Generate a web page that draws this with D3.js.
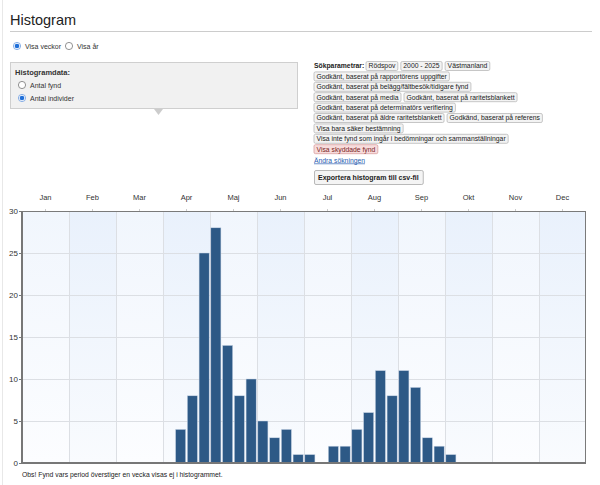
<!DOCTYPE html>
<html>
<head>
<meta charset="utf-8">
<script src="https://cdn.jsdelivr.net/npm/d3@7"></script>
<style>
html,body{margin:0;padding:0;background:#fff;}
svg{display:block;font-family:"Liberation Sans",Arial,sans-serif;}
</style>
</head>
<body>
<svg id="c" width="600" height="485"></svg>
<script>
// ---- data ----
const months = ["Jan","Feb","Mar","Apr","Maj","Jun","Jul","Aug","Sep","Okt","Nov","Dec"];
const weeks = d3.range(1, 49); // 4 bins per month
const counts = [0,0,0,0, 0,0,0,0, 0,0,0,0, 0,4,8,25, 28,14,8,10, 5,3,4,1, 1,0,2,2, 4,6,11,8, 11,9,3,2, 1,0,0,0, 0,0,0,0, 0,0,0,0];
const yTicks = [0,5,10,15,20,25,30];
const tagRows = [
  ["Rödspov","2000 - 2025","Västmanland"],
  ["Godkänt, baserat på rapportörens uppgifter"],
  ["Godkänt, baserat på belägg/fältbesök/tidigare fynd"],
  ["Godkänt, baserat på media","Godkänt, baserat på raritetsblankett"],
  ["Godkänt, baserat på determinatörs verifiering"],
  ["Godkänt, baserat på äldre raritetsblankett","Godkänd, baserat på referens"],
  ["Visa bara säker bestämning"],
  ["Visa inte fynd som ingår i bedömningar och sammanställningar"],
  ["Visa skyddade fynd"]
];

const svg = d3.select("#c");
const defs = svg.append("defs");

// page border line
svg.append("line").attr("x1",2.5).attr("x2",2.5).attr("y1",0).attr("y2",485).attr("stroke","#e8e8e8");

// title
svg.append("text").attr("x",10).attr("y",25).attr("font-size",14.5).attr("fill","#222").text("Histogram");
svg.append("line").attr("x1",10).attr("x2",592).attr("y1",31.5).attr("y2",31.5).attr("stroke","#ccc");

function radio(g, x, y, checked){
  g.append("circle").attr("cx",x).attr("cy",y).attr("r",3.6).attr("fill","#fff")
    .attr("stroke", checked ? "#6a9be0" : "#777").attr("stroke-width",0.8);
  if(checked) g.append("circle").attr("cx",x).attr("cy",y).attr("r",2.3).attr("fill","#1f6fd8");
}
radio(svg,17,46,true);
svg.append("text").attr("x",25).attr("y",48.5).attr("font-size",7).attr("fill","#333").text("Visa veckor");
radio(svg,69,46,false);
svg.append("text").attr("x",77).attr("y",48.5).attr("font-size",7).attr("fill","#333").text("Visa år");

// histogramdata box
svg.append("rect").attr("x",10.5).attr("y",62.5).attr("width",287).attr("height",46).attr("fill","#f1f1f1").attr("stroke","#cfcfcf");
svg.append("path").attr("d","M154,109 L163,109 L158.5,115 Z").attr("fill","#cccccc");
svg.append("text").attr("x",15).attr("y",75).attr("font-size",7.5).attr("font-weight","bold").attr("fill","#333").text("Histogramdata:");
radio(svg,22,85,false);
svg.append("text").attr("x",30).attr("y",87.5).attr("font-size",7).attr("fill","#333").text("Antal fynd");
radio(svg,22,98,true);
svg.append("text").attr("x",30).attr("y",100.5).attr("font-size",7).attr("fill","#333").text("Antal individer");

// tags
const tagFS = 6.8, rowH = 10.4, tagX0 = 314, rowY0 = 66;
svg.append("text").attr("x",tagX0).attr("y",rowY0+2.4).attr("font-size",tagFS).attr("font-weight","bold").attr("fill","#222").text("Sökparametrar:");
tagRows.forEach((row, ri) => {
  let x = ri === 0 ? 366 : tagX0;
  const cy = rowY0 + ri*rowH;
  row.forEach(label => {
    const g = svg.append("g");
    const red = label === "Visa skyddade fynd";
    const r = g.append("rect").attr("y",cy-4.5).attr("height",9).attr("rx",1.5)
      .attr("fill", red ? "#f7dcdc" : "#f3f3f3").attr("stroke", red ? "#d9a0a0" : "#b9b9b9").attr("stroke-width",0.8);
    const t = g.append("text").attr("x",x+2.5).attr("y",cy+2.4).attr("font-size",tagFS).attr("fill", red ? "#7a1f1f" : "#222").text(label);
    const w = t.node().getComputedTextLength() + 5;
    r.attr("x",x).attr("width",w);
    x += w + 3;
  });
});
svg.append("text").attr("x",tagX0).attr("y",162.5).attr("font-size",tagFS).attr("fill","#2a5db0")
  .attr("text-decoration","underline").text("Ändra sökningen");
{
  const g = svg.append("g");
  const r = g.append("rect").attr("x",tagX0+0.5).attr("y",170.5).attr("height",14).attr("rx",1.5)
    .attr("fill","#f4f4f4").attr("stroke","#a8a8a8").attr("stroke-width",0.8);
  const t = g.append("text").attr("x",tagX0+4).attr("y",180).attr("font-size",7).attr("font-weight","bold").attr("fill","#222").text("Exportera histogram till csv-fil");
  r.attr("width", t.node().getComputedTextLength() + 8);
}

// ---- chart ----
const L = 22, R = 586, T = 211, B = 463;
const x = d3.scaleBand().domain(weeks).range([L,R]).paddingInner(0.14).paddingOuter(0.07);
const xm = d3.scaleBand().domain(months).range([L,R]);
const y = d3.scaleLinear().domain([0,30]).range([B,T]);

const gEven = defs.append("linearGradient").attr("id","gEven").attr("x1",0).attr("x2",0).attr("y1",0).attr("y2",1);
gEven.append("stop").attr("offset","0%").attr("stop-color","#e9f1fc");
gEven.append("stop").attr("offset","100%").attr("stop-color","#f9fbfe");
const gOdd = defs.append("linearGradient").attr("id","gOdd").attr("x1",0).attr("x2",0).attr("y1",0).attr("y2",1);
gOdd.append("stop").attr("offset","0%").attr("stop-color","#f1f6fd");
gOdd.append("stop").attr("offset","100%").attr("stop-color","#fcfdff");

svg.append("g").selectAll("rect").data(months).join("rect")
  .attr("x", d => xm(d)).attr("y", T).attr("width", xm.bandwidth()).attr("height", B-T)
  .attr("fill", (d,i) => i % 2 ? "url(#gEven)" : "url(#gOdd)");

// horizontal grid
svg.append("g").selectAll("line").data(yTicks).join("line")
  .attr("x1",L).attr("x2",R).attr("y1",d=>y(d)+0.5).attr("y2",d=>y(d)+0.5)
  .attr("stroke","#dcdfe4").attr("stroke-width",1);
// vertical grid at month boundaries
svg.append("g").selectAll("line").data(months.slice(1)).join("line")
  .attr("x1",d=>Math.round(xm(d))+0.5).attr("x2",d=>Math.round(xm(d))+0.5).attr("y1",T).attr("y2",B)
  .attr("stroke","#dcdfe4").attr("stroke-width",1);

// bars
svg.append("g").selectAll("rect").data(weeks.filter((w,i)=>counts[i]>0)).join("rect")
  .attr("x", d => x(d)).attr("width", x.bandwidth())
  .attr("y", d => y(counts[d-1])).attr("height", d => B - y(counts[d-1]))
  .attr("fill","#2d5986").attr("stroke","#c9d6e6").attr("stroke-width",0.5);

// frame
svg.append("rect").attr("x",L+0.5).attr("y",T+0.5).attr("width",R-L-1).attr("height",B-T-1)
  .attr("fill","none").attr("stroke","#7a7a7a").attr("stroke-width",1);
svg.append("line").attr("x1",L).attr("x2",L).attr("y1",T).attr("y2",B+1).attr("stroke","#777").attr("stroke-width",2);
svg.append("line").attr("x1",L).attr("x2",R).attr("y1",B).attr("y2",B).attr("stroke","#777").attr("stroke-width",2);

// y axis labels via d3 axis
const yAxis = svg.append("g").attr("transform",`translate(${L},0)`)
  .call(d3.axisLeft(y).tickValues(yTicks).tickSize(3).tickPadding(1));
yAxis.select(".domain").remove();
yAxis.selectAll("line").attr("stroke","#777");
yAxis.selectAll("text").attr("font-size",8).attr("fill","#333").attr("font-family","'Liberation Sans',Arial");

// month labels on top
const xAxis = svg.append("g").attr("transform",`translate(0,${T})`)
  .call(d3.axisTop(xm).tickSize(2).tickPadding(9));
xAxis.select(".domain").remove();
xAxis.selectAll("line").attr("stroke","#ccc");
xAxis.selectAll("text").attr("font-size",7.5).attr("fill","#333").attr("font-family","'Liberation Sans',Arial");

// note
svg.append("text").attr("x",22).attr("y",477).attr("font-size",6.8).attr("fill","#222")
  .text("Obs! Fynd vars period överstiger en vecka visas ej i histogrammet.");
</script>
</body>
</html>
